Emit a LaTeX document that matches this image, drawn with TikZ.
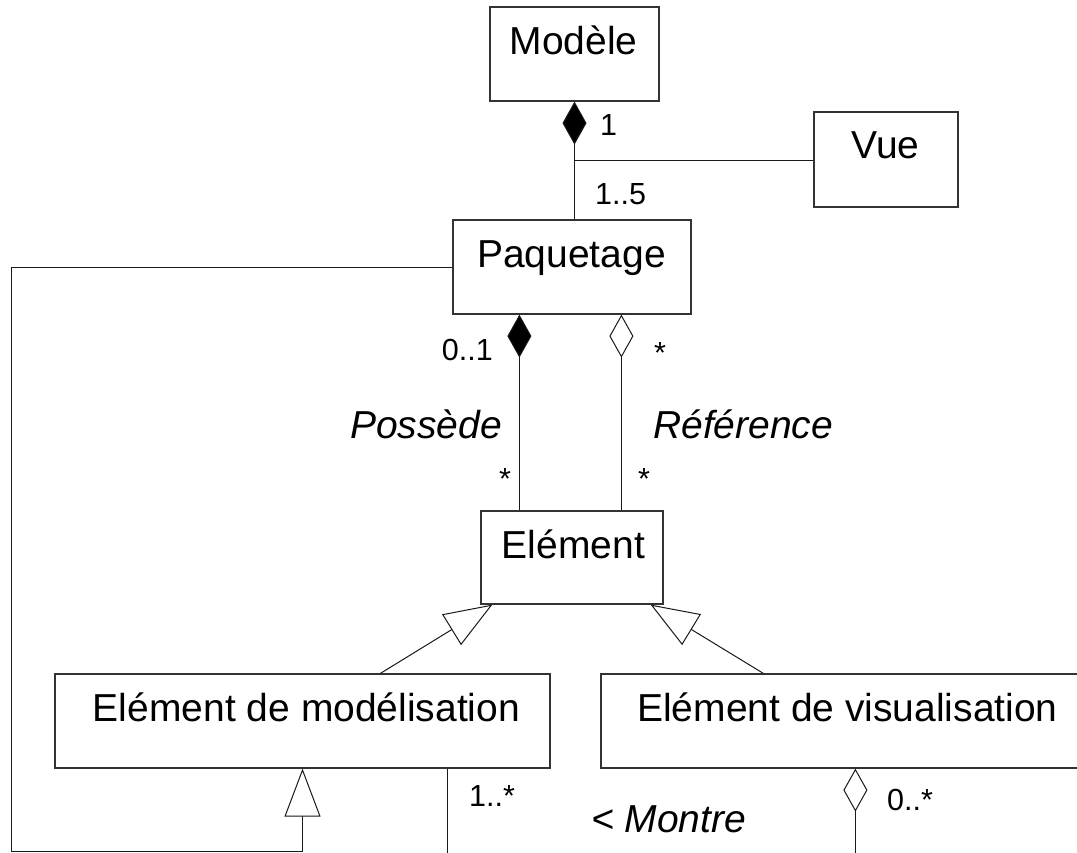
\documentclass[tikz,border=0pt]{standalone}
\usepackage{fontspec}
\setmainfont{Liberation Sans}
\usetikzlibrary{arrows.meta,calc}
\begin{document}
\begin{tikzpicture}[x=1pt,y=-1pt,
  box/.style={draw=black!80, line width=1.2pt, rectangle, inner sep=0pt},
  ttl/.style={font=\fontsize{39}{47}\selectfont, anchor=base, inner sep=0pt},
  mult/.style={font=\fontsize{30.5}{36}\selectfont, inner sep=0pt},
  role/.style={font=\fontsize{39}{47}\selectfont\itshape, anchor=base west, inner sep=0pt},
  link/.style={line width=1pt, black!90},
  comp/.style={arrows={Diamond[fill=black,length=43pt,width=24pt]-}},
  aggr/.style={arrows={Diamond[open,fill=white,length=43pt,width=24pt]-}},
  gen/.style={arrows={-Triangle[open,fill=white,length=48pt,width=36pt]}}]
\useasboundingbox (0,0) rectangle (1077,852);
\clip (0,0) rectangle (1077,852);

% class boxes
\node[box, minimum width=169pt, minimum height=94pt] (modele) at (574.5,54) {};
\node[box, minimum width=144pt, minimum height=95pt] (vue) at (886,159.5) {};
\node[box, minimum width=238pt, minimum height=94pt] (paq) at (572,267) {};
\node[box, minimum width=182pt, minimum height=93pt] (elem) at (572,557.5) {};
\node[box, minimum width=495pt, minimum height=94pt] (emod) at (302.5,721) {};
\node[box, minimum width=500pt, minimum height=94pt] (evis) at (851,721) {};

% class names
\node[ttl] (tmodele) at (573.5,54) {Modèle};
\node[ttl] (tvue) at (885.5,158) {Vue};
\node[ttl] (tpaq) at (571.5,267) {Paquetage};
\node[ttl] (telem) at (573.5,558) {Elément};
\node[ttl] (temod) at (306.5,721) {Elément de modélisation};
\node[ttl] (tevis) at (847.5,721) {Elément de visualisation};

% Modele - Paquetage composition, Vue attachment
\draw[link, comp] (modele.south) -- (modele.south |- paq.north);
\coordinate (vj) at ($(modele.south)+(0,59)$);
\draw[link] (vj) -- (vj -| vue.west);

% Paquetage - Element
\coordinate (pa) at ($(paq.south west)+(67,0)$);
\coordinate (pb) at ($(paq.south west)+(169,0)$);
\draw[link, comp] (pa) -- (pa |- elem.north);
\draw[link, aggr] (pb) -- (pb |- elem.north);

% generalisations
\coordinate (g1s) at ($(emod.north west)+(326,0)$);
\coordinate (g1e) at ($(elem.south west)+(12,0)$);
\draw[link, gen] (g1s) -- (g1e);
\coordinate (g2s) at ($(evis.north west)+(163,0)$);
\coordinate (g2e) at ($(elem.south east)+(-13,0)$);
\draw[link, gen] (g2s) -- (g2e);

% Paquetage specialises Element de modelisation
\coordinate (lc) at (11,851);
\draw[link, gen] (paq.west) -| (lc) -| (emod.south);

% Montre association (leaves the page)
\coordinate (m1) at ($(emod.south west)+(393,0)$);
\coordinate (m1end) at ($(m1)+(0,100)$);
\draw[link] (m1) -- (m1end);
\coordinate (m2) at ($(evis.south west)+(255,0)$);
\coordinate (m2end) at ($(m2)+(0,100)$);
\draw[link, aggr] (m2) -- (m2end);

% multiplicities and roles
\node[mult, anchor=base west] (mone) at (600,135) {1};
\node[mult, anchor=base west] (monefive) at (595,204) {1..5};
\node[mult, anchor=base east] (mzeroone) at (493,360) {0..1};
\node[mult, anchor=base west] (mstara) at (654,363) {*};
\node[mult, anchor=base west] (mstarb) at (499,489) {*};
\node[mult, anchor=base west] (mstarc) at (638,489) {*};
\node[mult, anchor=base west] (monestar) at (469,806) {1..*};
\node[mult, anchor=base west] (mzerostar) at (887,810) {0..*};
\node[role] (rposs) at (350,438) {Possède};
\node[role] (rref) at (653,438) {Référence};
\node[role] (rmontre) at (591,832) {< Montre};
\end{tikzpicture}
\end{document}
